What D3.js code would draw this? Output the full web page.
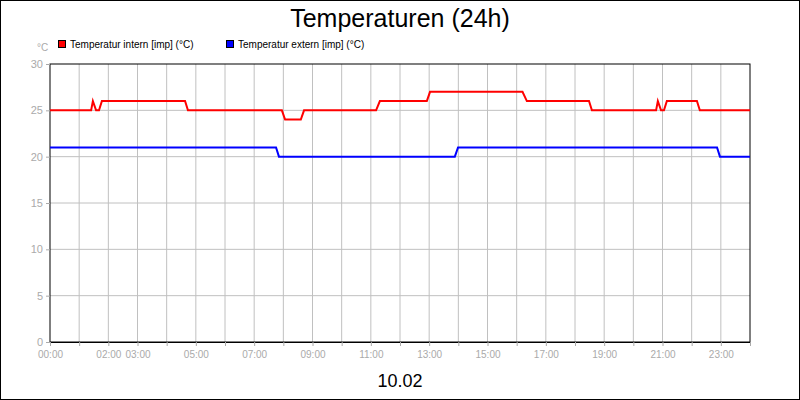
<!DOCTYPE html>
<html><head><meta charset="utf-8">
<script src="https://cdn.jsdelivr.net/npm/d3@7"></script>
<style>body{margin:0}text{font-family:"Liberation Sans",Arial,sans-serif}</style>
</head><body><div id="chart"></div>
<script>
// data (hours since 00:00, °C)
var internHours = [0,1.41,1.47,1.58,1.68,1.78,4.63,4.73,7.95,8.06,8.6,8.71,11.18,11.31,12.92,13.03,16.2,16.35,18.48,18.58,20.78,20.84,20.95,21.05,21.15,22.18,22.28,24];
var internTemps = [25,25,26,25,25,26,26,25,25,24,24,25,25,26,26,27,27,26,26,25,25,26,25,25,26,26,25,25];
var externHours = [0,7.75,7.85,13.88,13.99,22.87,22.97,24];
var externTemps = [21,21,20,20,21,21,20,20];
var tickHours = [0,2,3,5,7,9,11,13,15,17,19,21,23];
var yTicks = [0,5,10,15,20,25,30];

var width = 800, height = 400,
    margin = {top: 64, right: 50, bottom: 58, left: 50};

var svg = d3.select("#chart").append("svg")
    .attr("width", width).attr("height", height);
svg.append("rect").attr("x", 0.5).attr("y", 0.5)
  .attr("width", width - 1).attr("height", height - 1)
  .attr("fill", "#fff").attr("stroke", "#000");

var x = d3.scaleLinear().domain([0, 24]).range([margin.left, width - margin.right]);
var y = d3.scaleLinear().domain([0, 30]).range([height - margin.bottom, margin.top]);

// grid
svg.append("g").selectAll("line").data(d3.range(1, 24)).join("line")
  .attr("x1", d => x(d)).attr("x2", d => x(d))
  .attr("y1", y(30)).attr("y2", y(0)).attr("stroke", "#c0c0c0");
svg.append("g").selectAll("line").data(yTicks.slice(1, -1)).join("line")
  .attr("x1", x(0)).attr("x2", x(24))
  .attr("y1", d => y(d)).attr("y2", d => y(d)).attr("stroke", "#c0c0c0");

svg.append("rect").attr("x", x(0)).attr("y", y(30))
  .attr("width", x(24) - x(0)).attr("height", y(0) - y(30))
  .attr("fill", "none").attr("stroke", "#000");

// axes
var xAxis = svg.append("g").attr("transform", "translate(0," + y(0) + ")")
  .call(d3.axisBottom(x).tickValues(d3.range(0, 25)).tickSize(4)
    .tickFormat(d => tickHours.includes(d) ? d3.format("02d")(d) + ":00" : ""));
xAxis.select(".domain").attr("stroke", "#000");
xAxis.selectAll(".tick line").attr("stroke", "#aaa");
xAxis.selectAll("text").attr("fill", "#aaa").attr("font-size", 10).attr("dy", "0.9em");

var yAxis = svg.append("g").attr("transform", "translate(" + x(0) + ",0)")
  .call(d3.axisLeft(y).tickValues(yTicks).tickSize(4));
yAxis.select(".domain").remove();
yAxis.selectAll(".tick line").attr("stroke", "#aaa");
yAxis.selectAll("text").attr("fill", "#aaa").attr("font-size", 11);

// lines
var line = d3.line().x(d => x(d[0])).y(d => y(d[1]));
svg.append("path").attr("d", line(d3.zip(externHours, externTemps)))
  .attr("fill", "none").attr("stroke", "#0000ff").attr("stroke-width", 2);
svg.append("path").attr("d", line(d3.zip(internHours, internTemps)))
  .attr("fill", "none").attr("stroke", "#ff0000").attr("stroke-width", 2);

// texts
svg.append("text").attr("x", 400).attr("y", 27).attr("text-anchor", "middle")
  .attr("font-size", 25).text("Temperaturen (24h)");
svg.append("text").attr("x", 400).attr("y", 387).attr("text-anchor", "middle")
  .attr("font-size", 18).text("10.02");
svg.append("text").attr("x", 37).attr("y", 51).attr("fill", "#aaa")
  .attr("font-size", 10).text("°C");

var legend = [["Temperatur intern [imp] (°C)", "#ff0000", 58], ["Temperatur extern [imp] (°C)", "#0000ff", 226]];
legend.forEach(function(l) {
  svg.append("rect").attr("x", l[2] + 0.5).attr("y", 40.5).attr("width", 7).attr("height", 7)
    .attr("fill", l[1]).attr("stroke", "#000");
  svg.append("text").attr("x", l[2] + 12).attr("y", 48).attr("font-size", 10).text(l[0]);
});
</script></body></html>
